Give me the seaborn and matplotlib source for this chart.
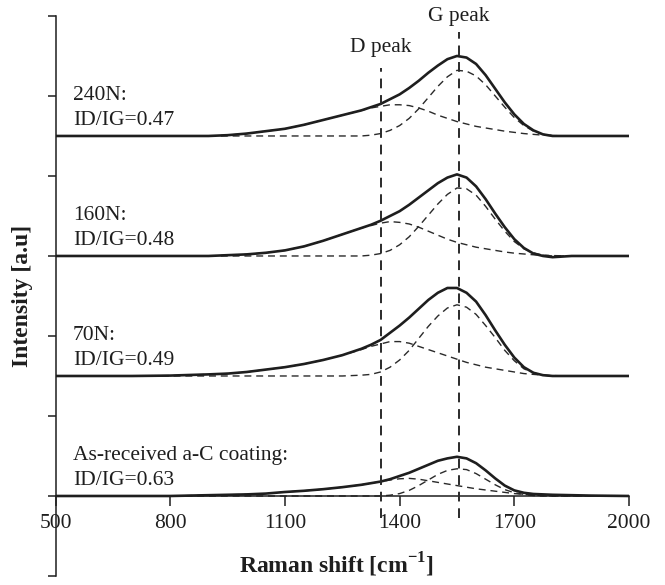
import numpy as np
import matplotlib
matplotlib.use('Agg')
import matplotlib.pyplot as plt
import seaborn as sns

# Raman shift grid (cm-1) used for all read-off samples
shift = [500, 600, 700, 800, 900, 950, 1000, 1050, 1100, 1150, 1200, 1250, 1300,
         1325, 1350, 1375, 1400, 1425, 1450, 1475, 1500, 1525, 1550, 1575, 1600,
         1625, 1650, 1675, 1700, 1725, 1750, 1775, 1800, 1850, 1900, 2000]

# As-received a-C coating
asr_total = [0, 0, 0, 0, 0.01, 0.015, 0.02, 0.03, 0.05, 0.065, 0.085, 0.11, 0.14,
             0.16, 0.18, 0.21, 0.25, 0.29, 0.34, 0.39, 0.44, 0.47, 0.49, 0.47, 0.41,
             0.32, 0.22, 0.13, 0.07, 0.04, 0.025, 0.02, 0.015, 0.01, 0.005, 0]
asr_d = [0, 0, 0, 0, 0.01, 0.015, 0.02, 0.03, 0.05, 0.065, 0.085, 0.11, 0.14,
         0.16, 0.18, 0.20, 0.215, 0.22, 0.21, 0.19, 0.17, 0.15, 0.13, 0.11, 0.09,
         0.075, 0.06, 0.045, 0.03, 0.02, 0.01, 0.005, 0, 0, 0, 0]
asr_g = [0, 0, 0, 0, 0, 0, 0, 0, 0, 0, 0, 0, 0,
         0, 0, 0.01, 0.03, 0.07, 0.13, 0.20, 0.27, 0.32, 0.34, 0.33, 0.28,
         0.21, 0.14, 0.08, 0.04, 0.02, 0.005, 0, 0, 0, 0, 0]

# 70N
n70_total = [0, 0, 0, 0.005, 0.02, 0.03, 0.05, 0.08, 0.11, 0.15, 0.20, 0.26, 0.34,
             0.39, 0.45, 0.54, 0.63, 0.73, 0.84, 0.95, 1.04, 1.10, 1.10, 1.04, 0.93,
             0.76, 0.57, 0.39, 0.23, 0.11, 0.04, 0.01, 0, 0, 0, 0]
n70_d = [0, 0, 0, 0.005, 0.02, 0.03, 0.05, 0.08, 0.11, 0.15, 0.20, 0.26, 0.33,
         0.37, 0.40, 0.43, 0.43, 0.41, 0.37, 0.33, 0.29, 0.25, 0.21, 0.17, 0.14,
         0.11, 0.09, 0.07, 0.05, 0.03, 0.02, 0.01, 0.005, 0, 0, 0]
n70_g = [0, 0, 0, 0, 0, 0, 0, 0, 0, 0, 0, 0, 0.01,
         0.02, 0.05, 0.11, 0.20, 0.32, 0.47, 0.62, 0.75, 0.85, 0.89, 0.86, 0.77,
         0.63, 0.48, 0.32, 0.19, 0.09, 0.04, 0.01, 0, 0, 0, 0]

# 160N
n160_total = [0, 0, 0, 0, 0, 0.01, 0.02, 0.04, 0.07, 0.12, 0.19, 0.27, 0.35,
              0.39, 0.44, 0.50, 0.56, 0.64, 0.73, 0.82, 0.91, 0.98, 1.02, 0.98, 0.87,
              0.71, 0.53, 0.36, 0.21, 0.10, 0.03, 0, -0.015, 0, 0, 0]
n160_d = [0, 0, 0, 0, 0, 0.01, 0.02, 0.04, 0.07, 0.12, 0.19, 0.27, 0.35,
          0.38, 0.41, 0.43, 0.42, 0.40, 0.36, 0.31, 0.26, 0.21, 0.17, 0.14, 0.11,
          0.09, 0.07, 0.05, 0.035, 0.025, 0.015, 0.01, 0.005, 0, 0, 0]
n160_g = [0, 0, 0, 0, 0, 0, 0, 0, 0, 0, 0, 0, 0,
          0.01, 0.03, 0.07, 0.14, 0.24, 0.37, 0.51, 0.65, 0.77, 0.85, 0.84, 0.76,
          0.62, 0.46, 0.31, 0.18, 0.09, 0.04, 0.01, 0, 0, 0, 0]

# 240N
n240_total = [0, 0, 0, 0, 0, 0.01, 0.03, 0.06, 0.09, 0.14, 0.20, 0.26, 0.32,
              0.36, 0.40, 0.46, 0.52, 0.60, 0.69, 0.79, 0.88, 0.96, 1.00, 0.98, 0.90,
              0.76, 0.59, 0.42, 0.27, 0.15, 0.07, 0.02, 0, 0, 0, 0]
n240_d = [0, 0, 0, 0, 0, 0.01, 0.03, 0.06, 0.09, 0.14, 0.20, 0.26, 0.32,
          0.35, 0.37, 0.39, 0.39, 0.38, 0.35, 0.31, 0.26, 0.22, 0.18, 0.15, 0.12,
          0.10, 0.08, 0.06, 0.045, 0.03, 0.02, 0.01, 0.005, 0, 0, 0]
n240_g = [0, 0, 0, 0, 0, 0, 0, 0, 0, 0, 0, 0, 0,
          0.01, 0.03, 0.07, 0.13, 0.22, 0.34, 0.48, 0.62, 0.74, 0.82, 0.81, 0.75,
          0.64, 0.50, 0.36, 0.23, 0.13, 0.06, 0.02, 0.005, 0, 0, 0]

offsets = [0.0, 1.5, 3.0, 4.5]
sample_labels = ['As-received a-C coating:', '70N:', '160N:', '240N:']
ratio_labels = ['ID/IG=0.63', 'ID/IG=0.49', 'ID/IG=0.48', 'ID/IG=0.47']
peak_pos = [1350, 1555]
peak_labels = ['D peak', 'G peak']
xticks = [500, 800, 1100, 1400, 1700, 2000]

totals = [asr_total, n70_total, n160_total, n240_total]
d_fits = [asr_d, n70_d, n160_d, n240_d]
g_fits = [asr_g, n70_g, n160_g, n240_g]

sns.set_style('ticks')
plt.rcParams['font.family'] = ['Liberation Serif', 'DejaVu Serif']
plt.rcParams['mathtext.fontset'] = 'custom'
plt.rcParams['mathtext.rm'] = 'Liberation Serif'
plt.rcParams['mathtext.bf'] = 'Liberation Serif:bold'

ink = '#1e1e1e'
dash = (0, (5, 3.5))

fig = plt.figure(figsize=(6.65, 5.85), dpi=100)
ax = fig.add_axes([0.0835, 0.0154, 0.8624, 0.9573])

for off, tot, d, g in zip(offsets, totals, d_fits, g_fits):
    for comp in (d, g):
        sns.lineplot(x=shift, y=np.add(comp, off), ax=ax, color='#2a2a2a',
                     lw=1.0, linestyle=dash, zorder=2)
    sns.lineplot(x=shift, y=np.add(tot, off), ax=ax, color=ink, lw=1.9, zorder=3)

# peak marker lines
line_tops = [5.35, 5.8]
label_y = [5.6, 5.99]
for p, name, top, ly in zip(peak_pos, peak_labels, line_tops, label_y):
    ax.vlines(p, -0.27, top, colors='#2a2a2a', lw=1.4, linestyles=[dash], zorder=4)
    ax.text(p, ly, name, fontsize=15.5, ha='center', va='center', color=ink)

for off, name, ratio in zip(offsets, sample_labels, ratio_labels):
    ax.text(545, off + 0.5, name, fontsize=15.5, ha='left', va='center', color=ink)
    ax.text(545, off + 0.19, ratio, fontsize=15.5, ha='left', va='center', color=ink)

ax.set_xlim(500, 2000)
ax.set_ylim(-1, 6)
ax.set_xticks(xticks)
ax.set_yticks(range(-1, 7))
ax.tick_params(axis='x', direction='out', length=7, width=1.1, pad=6,
               labelsize=15.5, colors=ink)
ax.tick_params(axis='y', direction='out', length=6, width=1.1, labelleft=False, colors=ink)

sns.despine(ax=ax)
ax.spines['bottom'].set_position(('data', 0))
for s in ('left', 'bottom'):
    ax.spines[s].set_linewidth(1.1)
    ax.spines[s].set_color(ink)

ax.set_xlabel(r'Raman shift [cm$^{\mathbf{-1}}$]', fontsize=17, fontweight='bold', color=ink)
ax.xaxis.set_label_coords(0.49, 0.02)
ax.xaxis.label.set_va('center')
ax.set_ylabel('Intensity [a.u]', fontsize=17, fontweight='bold', color=ink)
ax.yaxis.set_label_coords(-0.04, 0.5)

fig.savefig('out.png', dpi=100)
